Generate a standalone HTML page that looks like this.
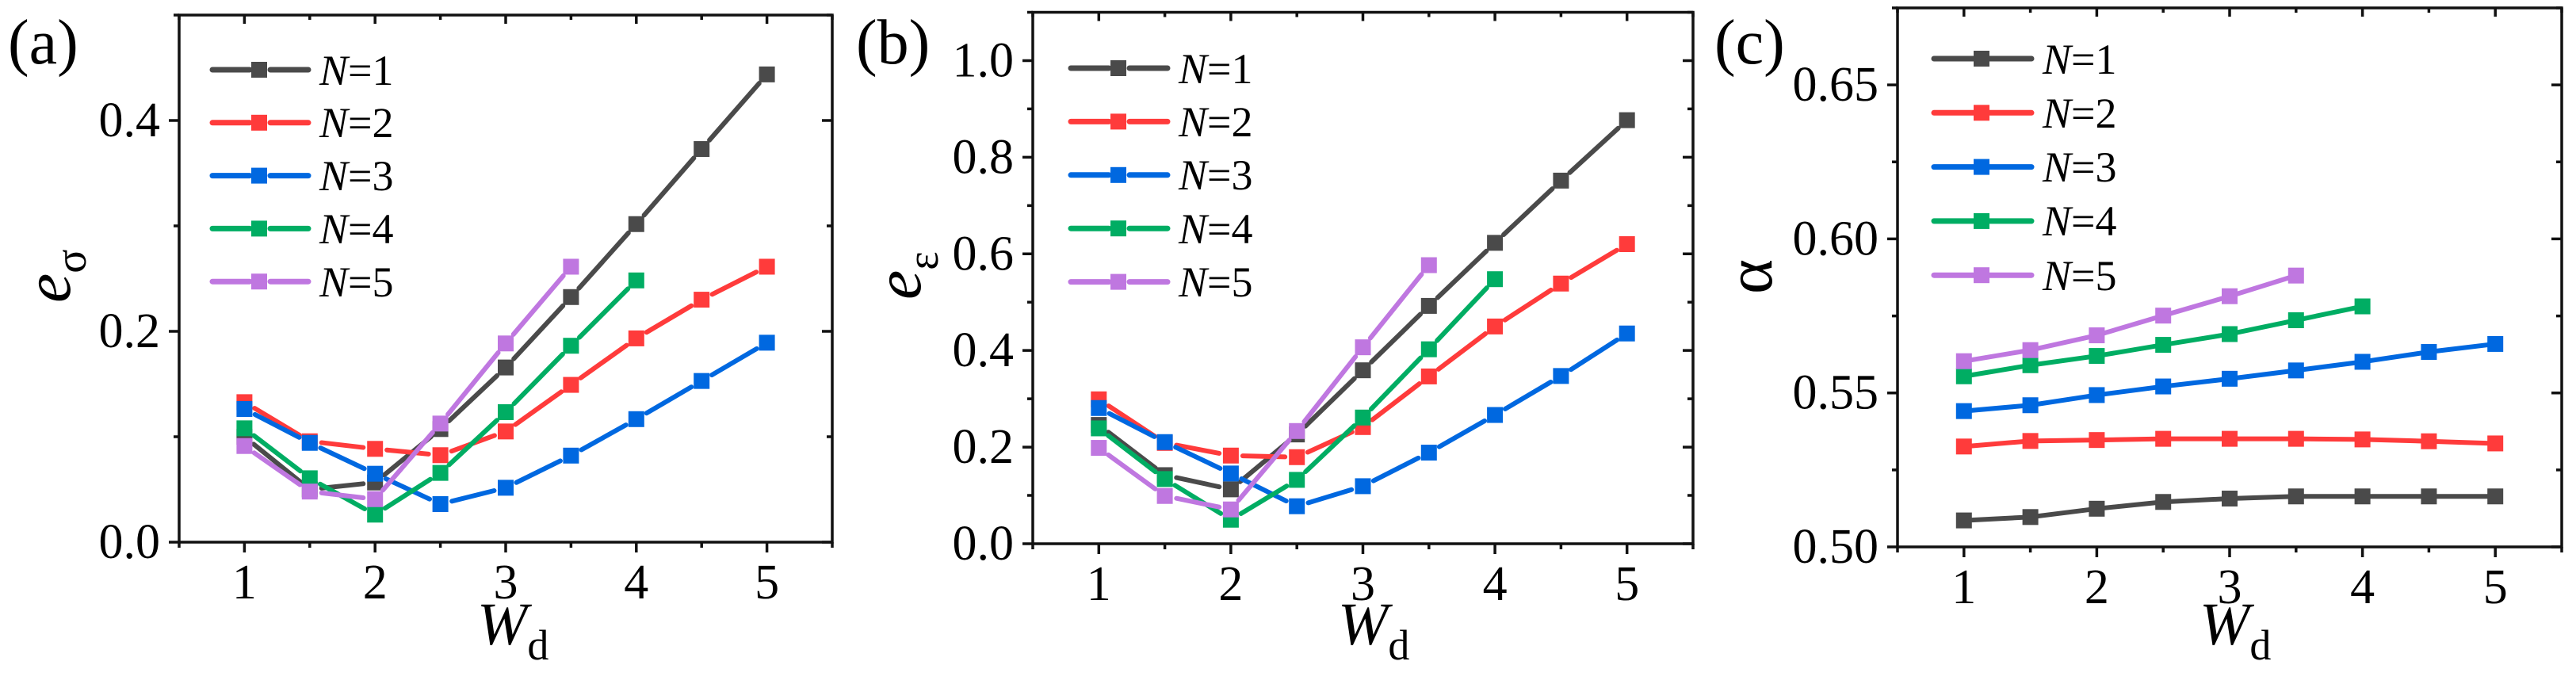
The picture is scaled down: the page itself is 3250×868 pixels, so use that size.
<!DOCTYPE html>
<html lang="en">
<head>
<meta charset="utf-8">
<title>Wd dependence of e-sigma, e-epsilon and alpha</title>
<style>
html,body{margin:0;padding:0;background:#fff;}
svg{display:block;font-family:"Liberation Serif",serif;fill:#000;}
</style>
</head>
<body>
<svg id="chart" xmlns="http://www.w3.org/2000/svg" width="3250" height="868" viewBox="0 0 3250 868">
  <rect x="0" y="0" width="3250" height="868" fill="#fff"/>

  <text x="10" y="80" font-size="80">(a)</text>
  <text x="1080" y="80" font-size="80">(b)</text>
  <text x="2163" y="80" font-size="80">(c)</text>

  <text transform="translate(88,382) rotate(-90)" font-size="84"><tspan font-style="italic">e</tspan><tspan font-size="56" dy="20">σ</tspan></text>
  <text transform="translate(1161,378) rotate(-90)" font-size="84"><tspan font-style="italic">e</tspan><tspan font-size="56" dy="22">ε</tspan></text>
  <text transform="translate(2235,371) rotate(-90)" font-size="84">α</text>

  <text x="602" y="813" font-size="76"><tspan font-style="italic">W</tspan><tspan font-size="54" dy="19">d</tspan></text>
  <text x="1688" y="813" font-size="76"><tspan font-style="italic">W</tspan><tspan font-size="54" dy="19">d</tspan></text>
  <text x="2775" y="813" font-size="76"><tspan font-style="italic">W</tspan><tspan font-size="54" dy="19">d</tspan></text>

  <g font-size="54">
    <text x="403" y="107"><tspan font-style="italic">N</tspan>=1</text>
    <text x="403" y="173"><tspan font-style="italic">N</tspan>=2</text>
    <text x="403" y="240"><tspan font-style="italic">N</tspan>=3</text>
    <text x="403" y="307"><tspan font-style="italic">N</tspan>=4</text>
    <text x="403" y="374"><tspan font-style="italic">N</tspan>=5</text>
  </g>
  <g font-size="54">
    <text x="1487" y="105"><tspan font-style="italic">N</tspan>=1</text>
    <text x="1487" y="172"><tspan font-style="italic">N</tspan>=2</text>
    <text x="1487" y="239"><tspan font-style="italic">N</tspan>=3</text>
    <text x="1487" y="307"><tspan font-style="italic">N</tspan>=4</text>
    <text x="1487" y="374"><tspan font-style="italic">N</tspan>=5</text>
  </g>
  <g font-size="54">
    <text x="2577" y="93"><tspan font-style="italic">N</tspan>=1</text>
    <text x="2577" y="161"><tspan font-style="italic">N</tspan>=2</text>
    <text x="2577" y="229"><tspan font-style="italic">N</tspan>=3</text>
    <text x="2577" y="297"><tspan font-style="italic">N</tspan>=4</text>
    <text x="2577" y="366"><tspan font-style="italic">N</tspan>=5</text>
  </g>
</svg>

<script>
// Shared category axis
const wdValues = [1, 1.5, 2, 2.5, 3, 3.5, 4, 4.5, 5];
const xTickLabels = ['1', '2', '3', '4', '5'];
const seriesNames = ['n1', 'n2', 'n3', 'n4', 'n5'];
const seriesColors = ['#4a4a4a', '#ff3b3b', '#0068e0', '#00ad63', '#bf77e0'];

// Panel (a): e-sigma
const aN1 = [0.100, 0.050, 0.0566, 0.1073, 0.1657, 0.2325, 0.3017, 0.3729, 0.4437];
const aN2 = [0.1328, 0.0957, 0.0885, 0.0825, 0.105, 0.1492, 0.1933, 0.230, 0.2613];
const aN3 = [0.1263, 0.0942, 0.0649, 0.0361, 0.0516, 0.0821, 0.1167, 0.1529, 0.1892];
const aN4 = [0.108, 0.0606, 0.0261, 0.0657, 0.1233, 0.1863, 0.2483];
const aN5 = [0.0912, 0.048, 0.0408, 0.1125, 0.1885, 0.2613];
const aYTicks = ['0.0', '0.2', '0.4'];

// Panel (b): e-epsilon
const bN1 = [0.2459, 0.142, 0.1126, 0.2262, 0.359, 0.4923, 0.6228, 0.7516, 0.8767];
const bN2 = [0.2989, 0.2087, 0.1825, 0.1792, 0.2415, 0.3463, 0.4497, 0.5385, 0.6201];
const bN3 = [0.2809, 0.2104, 0.1454, 0.0776, 0.1191, 0.1886, 0.2665, 0.3472, 0.4352];
const bN4 = [0.2388, 0.1339, 0.0497, 0.1322, 0.2612, 0.4025, 0.5476];
const bN5 = [0.1984, 0.0989, 0.071, 0.2333, 0.4066, 0.5766];
const bYTicks = ['0.0', '0.2', '0.4', '0.6', '0.8', '1.0'];

// Panel (c): alpha
const cN1 = [0.5086, 0.5097, 0.5124, 0.5146, 0.5157, 0.5164, 0.5164, 0.5164, 0.5164];
const cN2 = [0.5326, 0.5344, 0.5347, 0.5351, 0.5351, 0.5351, 0.5349, 0.5343, 0.5336];
const cN3 = [0.5441, 0.546, 0.5493, 0.5521, 0.5546, 0.5573, 0.5601, 0.5633, 0.5659];
const cN4 = [0.5554, 0.559, 0.562, 0.5656, 0.5691, 0.5736, 0.5781];
const cN5 = [0.5603, 0.5639, 0.5687, 0.5751, 0.5814, 0.5881];
const cYTicks = ['0.50', '0.55', '0.60', '0.65'];

const SVG_NS = 'http://www.w3.org/2000/svg';
const svg = document.getElementById('chart');
const AXIS = '#111';

function mk(tag, attrs, parent) {
  const el = document.createElementNS(SVG_NS, tag);
  for (const k in attrs) el.setAttribute(k, attrs[k]);
  parent.appendChild(el);
  return el;
}

function drawPanel(p) {
  const g = mk('g', {}, svg);
  
  

  const xScale = v => p.left + (v - p.xMin) / (p.xMax - p.xMin) * (p.right - p.left);
  const yScale = v => p.bottom - (v - p.yMin) / (p.yMax - p.yMin) * (p.bottom - p.top);

  const frame = mk('rect', {x: p.left, y: p.top, width: p.right - p.left, height: p.bottom - p.top, fill: 'none', stroke: AXIS, 'stroke-width': 3.5}, g);
  
  

  // x ticks: majors on integers, minors on half steps
  for (let v = p.xMin; v <= p.xMax + 1e-9; v += 0.5) {
    const major = Math.abs(v - Math.round(v)) < 1e-9;
    const x = xScale(v);
    const len = major ? 13 : 7;
    const t = mk('path', {d: `M${x} ${p.bottom}v${len}M${x} ${p.top}v${major ? 11 : 6}`, stroke: AXIS, 'stroke-width': 3.5, fill: 'none'}, g);
    
    
  }
  xTickLabels.forEach(label => {
    const t = mk('text', {x: xScale(Number(label)), y: p.bottom + 71, 'text-anchor': 'middle', 'font-size': 62}, g);
    t.textContent = label;
    
    
  });

  // y ticks: majors from tick labels, minors midway
  const labels = p.yLabels;
  const step = Number(labels[1]) - Number(labels[0]);
  for (let i = 0; ; i++) {
    const v = Number(labels[0]) + i * step / 2;
    if (v > p.yMax + 1e-9) break;
    const major = i % 2 === 0;
    const y = yScale(v);
    const t = mk('path', {d: `M${p.left} ${y}h${major ? -13 : -7}M${p.right} ${y}h${major ? -13 : -7}`, stroke: AXIS, 'stroke-width': 3.5, fill: 'none'}, g);
    
    
  }
  labels.forEach(label => {
    const t = mk('text', {x: p.left - 24, y: yScale(Number(label)) + 20, 'text-anchor': 'end', 'font-size': 62}, g);
    t.textContent = label;
    
    
  });

  // series
  p.series.forEach((values, s) => {
    const color = seriesColors[s];
    const sg = mk('g', {}, g);
    
    

    let d = '';
    for (let i = 0; i + 1 < values.length; i++) {
      const x0 = xScale(wdValues[i]), y0 = yScale(values[i]);
      const x1 = xScale(wdValues[i + 1]), y1 = yScale(values[i + 1]);
      const dist = Math.hypot(x1 - x0, y1 - y0);
      const ux = (x1 - x0) / dist, uy = (y1 - y0) / dist;
      d += `M${x0 + ux * p.gap} ${y0 + uy * p.gap}L${x1 - ux * p.gap} ${y1 - uy * p.gap}`;
    }
    const line = mk('path', {d: d, fill: 'none', stroke: color, 'stroke-width': 6, 'stroke-linecap': 'round'}, sg);
    
    

    values.forEach((v, i) => {
      const m = mk('rect', {x: xScale(wdValues[i]) - 10, y: yScale(v) - 10, width: 20, height: 20, fill: color}, sg);
      
      
    });

    // legend swatch
    const ly = p.legendY + s * p.legendStep;
    const sw = mk('path', {
      d: p.gap > 0
        ? `M${p.legendX0} ${ly}H${p.legendMid - 12}M${p.legendMid + 14} ${ly}H${p.legendX1}`
        : `M${p.legendX0} ${ly}H${p.legendX1}`,
      fill: 'none', stroke: color, 'stroke-width': 7, 'stroke-linecap': 'round'
    }, g);
    
    
    const sm = mk('rect', {x: p.legendMid - 10, y: ly - 10, width: 20, height: 20, fill: color}, g);
    
    
  });
}

drawPanel({
  id: 'a', left: 226, right: 1050, top: 19, bottom: 684,
  xMin: 0.5, xMax: 5.5, yMin: 0, yMax: 0.5,
  yLabels: aYTicks, series: [aN1, aN2, aN3, aN4, aN5], gap: 15,
  legendX0: 268, legendX1: 389, legendMid: 327, legendY: 88, legendStep: 66.8
});
drawPanel({
  id: 'b', left: 1303, right: 2136, top: 15.5, bottom: 686,
  xMin: 0.5, xMax: 5.5, yMin: 0, yMax: 1.1,
  yLabels: bYTicks, series: [bN1, bN2, bN3, bN4, bN5], gap: 15,
  legendX0: 1351, legendX1: 1473, legendMid: 1411, legendY: 86, legendStep: 67.4
});
drawPanel({
  id: 'c', left: 2394, right: 3232, top: 10, bottom: 690,
  xMin: 0.5, xMax: 5.5, yMin: 0.5, yMax: 0.675,
  yLabels: cYTicks, series: [cN1, cN2, cN3, cN4, cN5], gap: 0,
  legendX0: 2440, legendX1: 2563, legendMid: 2500, legendY: 74, legendStep: 68.3
});
</script>
</body>
</html>
